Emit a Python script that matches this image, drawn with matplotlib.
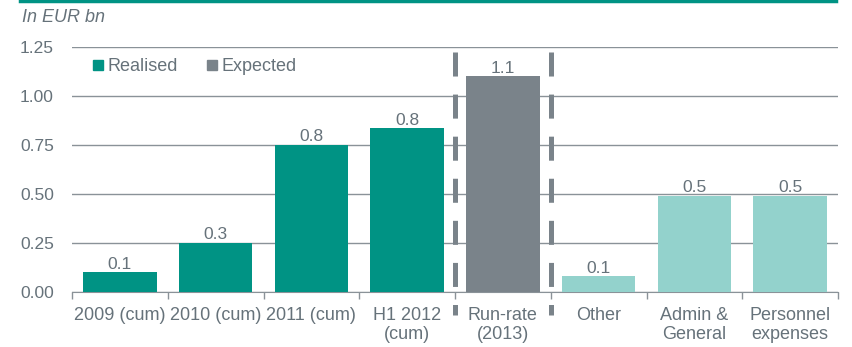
import matplotlib
matplotlib.use("Agg")
import matplotlib.pyplot as plt
from matplotlib.patches import Patch
from matplotlib.lines import Line2D

categories = ["2009 (cum)", "2010 (cum)", "2011 (cum)", "H1 2012\n(cum)", "Run-rate\n(2013)",
              "Other", "Admin &\nGeneral", "Personnel\nexpenses"]
values = [0.10, 0.25, 0.75, 0.835, 1.10, 0.08, 0.49, 0.49]
labels = ["0.1", "0.3", "0.8", "0.8", "1.1", "0.1", "0.5", "0.5"]
kinds = ["realised", "realised", "realised", "realised", "expected", "split", "split", "split"]
yticks = [0.00, 0.25, 0.50, 0.75, 1.00, 1.25]

TEAL = "#009384"
GREY = "#7a838a"
LIGHT = "#93d2cc"
TXT = "#66727a"
colors = {"realised": TEAL, "expected": GREY, "split": LIGHT}

plt.rcParams['font.family'] = ['Liberation Sans', 'DejaVu Sans']
plt.rcParams['lines.scale_dashes'] = False
fig = plt.figure(figsize=(8.52, 3.47), dpi=100)
ax = fig.add_axes([72/852, 1-292/347, (838-72)/852, (292-47)/347])

x = list(range(len(categories)))
ax.bar(x, values, width=0.77, color=[colors[k] for k in kinds], zorder=3)
for xi, v, l in zip(x, values, labels):
    ax.text(xi, v + 0.003, l, ha='center', va='bottom', fontsize=12.5, color=TXT, zorder=4)

ax.set_xlim(-0.5, len(categories) - 0.5)
ax.set_ylim(0, 1.25)
ax.set_yticks(yticks)
ax.set_yticklabels([f"{t:.2f}" for t in yticks], fontsize=12.5, color=TXT)
ax.yaxis.grid(True, color="#8a9298", linewidth=1, zorder=0)
ax.set_axisbelow(True)
ax.tick_params(axis='y', length=0, pad=13)
ax.set_xticks([i - 0.5 for i in range(len(categories) + 1)])
ax.set_xticklabels([])
ax.set_xticks(x, minor=True)
ax.set_xticklabels(categories, minor=True, fontsize=13, color=TXT, linespacing=1.2)
ax.tick_params(axis='x', which='major', length=5, color="#8a9298", width=1)
ax.tick_params(axis='x', which='minor', length=0, pad=10.5)
for s in ["top", "right", "left"]:
    ax.spines[s].set_visible(False)
ax.spines["bottom"].set_color("#8a9298")

# dashed separators around run-rate
for xb in (3.5, 4.5):
    ax.add_line(Line2D([xb, xb], [1.224, -0.117], color=GREY, linewidth=3.6,
                       linestyle=(0, (17.3, 13.0)), clip_on=False, zorder=5,
                       solid_capstyle='butt', dash_capstyle='butt'))

# legend
handles = [Patch(color=TEAL, label="Realised"), Patch(color=GREY, label="Expected")]
leg = ax.legend(handles=handles, loc='upper left', bbox_to_anchor=(0.0104, 1.005), ncol=2,
                frameon=False, fontsize=13, handlelength=0.55, handleheight=0.55,
                handletextpad=0.28, columnspacing=1.6, borderaxespad=0.3)
for t in leg.get_texts():
    t.set_color(TXT)

# header
fig.add_artist(Line2D([20/852, 836/852], [1-1/347, 1-1/347], color=TEAL, linewidth=2.5))
fig.text(22/852, 1-18/347, "In EUR bn", fontsize=13, style='italic', color=TXT, va='center')

fig.savefig("out.png", dpi=100)
